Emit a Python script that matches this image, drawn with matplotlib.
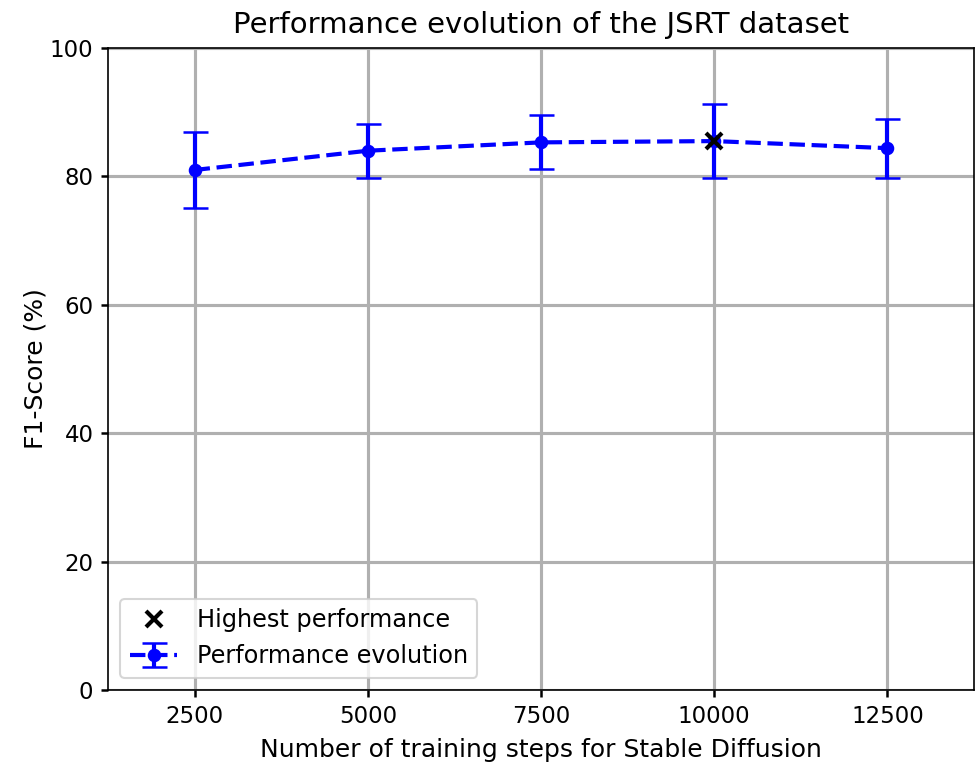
import numpy as np
import matplotlib
matplotlib.use("Agg")
import matplotlib.pyplot as plt

steps = [2500, 5000, 7500, 10000, 12500]
f1 = [81.0, 84.0, 85.3, 85.5, 84.4]
f1_err = [5.9, 4.2, 4.2, 5.8, 4.6]

best = int(np.argmax(f1))

fig = plt.figure(figsize=(976/150, 767/150), dpi=150)
ax = fig.add_axes([108/976, 77/767, 866/976, 642/767])

ax.errorbar(steps, f1, yerr=f1_err, fmt='o--', color='blue', lw=2,
            elinewidth=2, capsize=6, capthick=1.2, markersize=5.5,
            label='Performance evolution', zorder=3)
ax.plot(steps[best], f1[best], 'x', color='black', markersize=8,
        markeredgewidth=2, label='Highest performance', zorder=4)

ax.set_xlim(1250, 13750)
ax.set_ylim(0, 100)
ax.set_xticks(steps)
ax.tick_params(labelsize=11, width=1.2)
ax.grid(True, lw=1.5)
ax.set_axisbelow(True)
ax.set_xlabel('Number of training steps for Stable Diffusion', fontsize=12, labelpad=5)
ax.set_ylabel('F1-Score (%)', fontsize=12, labelpad=1)
ax.set_title('Performance evolution of the JSRT dataset', fontsize=14, pad=7)

ax.legend(loc='lower left', fontsize=11.5)

fig.savefig('out.png', dpi=150)
